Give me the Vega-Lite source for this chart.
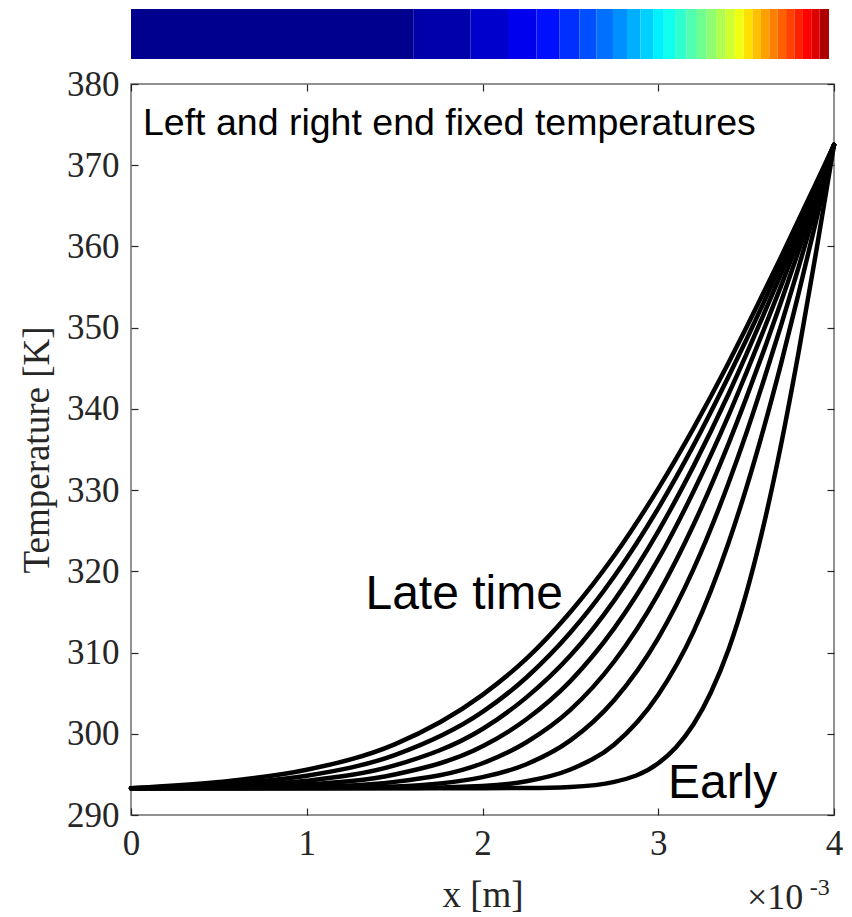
{
  "$schema": "https://vega.github.io/schema/vega-lite/v6.json",
  "background": "white",
  "padding": {"left": 17, "top": 9, "right": 10, "bottom": 0},
  "bounds": "flush",
  "spacing": 25,
  "config": {
    "view": {"stroke": null},
    "axis": {
      "domain": false, "grid": false, "labelFlush": false,
      "labelFont": "Liberation Serif", "labelFontSize": 35, "labelColor": "#262626",
      "titleFont": "Liberation Serif", "titleFontSize": 37, "titleFontWeight": "normal", "titleColor": "#262626",
      "tickColor": "#262626", "tickSize": -7, "tickWidth": 1.2
    }
  },
  "datasets": {
    "curves": [
      {"x":0,"t1":293.3,"t2":293.3,"t3":293.3,"t4":293.3,"t5":293.3,"t6":293.3,"t7":293.3,"t8":293.3},
      {"x":0.0005,"t1":293.3,"t2":293.3,"t3":293.3,"t4":293.32,"t5":293.4,"t6":293.55,"t7":293.78,"t8":294.06},
      {"x":0.001,"t1":293.3,"t2":293.3,"t3":293.33,"t4":293.45,"t5":293.75,"t6":294.21,"t7":294.84,"t8":295.57},
      {"x":0.0015,"t1":293.3,"t2":293.32,"t3":293.52,"t4":294.08,"t5":294.99,"t6":296.1,"t7":297.37,"t8":298.69},
      {"x":0.002,"t1":293.3,"t2":293.58,"t3":294.66,"t4":296.37,"t5":298.45,"t6":300.59,"t7":302.69,"t8":304.79},
      {"x":0.00225,"t1":293.32,"t2":294.15,"t3":296.25,"t4":298.96,"t5":301.79,"t6":304.48,"t7":306.93,"t8":309.25},
      {"x":0.0025,"t1":293.45,"t2":295.6,"t3":299.18,"t4":302.94,"t5":306.49,"t6":309.63,"t7":312.46,"t8":315.0},
      {"x":0.00275,"t1":294.08,"t2":298.69,"t3":304.16,"t4":308.93,"t5":313.0,"t6":316.43,"t7":319.39,"t8":321.95},
      {"x":0.003,"t1":296.37,"t2":304.81,"t3":311.78,"t4":317.23,"t5":321.49,"t6":324.93,"t7":327.76,"t8":330.19},
      {"x":0.0031,"t1":298.32},
      {"x":0.0032,"t1":301.14,"t2":312.55,"t3":320.24,"t4":325.7,"t5":329.79,"t6":332.92,"t7":335.47,"t8":337.6},
      {"x":0.0033,"t1":305.11},
      {"x":0.0034,"t1":310.38,"t2":323.52,"t3":330.87,"t4":335.73,"t5":339.19,"t6":341.83,"t7":343.98,"t8":345.67},
      {"x":0.0035,"t1":317.23,"t2":330.19,"t3":336.93,"t4":341.29,"t5":344.38,"t6":346.64,"t7":348.46,"t8":349.95},
      {"x":0.0036,"t1":325.7,"t2":337.6,"t3":343.5,"t4":347.14,"t5":349.71,"t6":351.64,"t7":353.08,"t8":354.35},
      {"x":0.0037,"t1":335.73,"t2":345.67,"t3":350.37,"t4":353.25,"t5":355.21,"t6":356.68,"t7":357.85,"t8":358.76},
      {"x":0.0038,"t1":347.14,"t2":354.35,"t3":357.55,"t4":359.54,"t5":360.91,"t6":361.92,"t7":362.71,"t8":363.33},
      {"x":0.0039,"t1":359.54,"t2":363.33,"t3":364.98,"t4":365.99,"t5":366.67,"t6":367.19,"t7":367.57,"t8":367.89},
      {"x":0.004,"t1":372.5,"t2":372.5,"t3":372.5,"t4":372.5,"t5":372.5,"t6":372.5,"t7":372.5,"t8":372.5}
    ],
    "bar": [
      {"k":1,"start":0,"end":0.4051},{"k":2,"start":0.4051,"end":0.4866},{"k":3,"start":0.4866,"end":0.5401},
      {"k":4,"start":0.5401,"end":0.5809},{"k":5,"start":0.5809,"end":0.6136},{"k":6,"start":0.6136,"end":0.6424},
      {"k":7,"start":0.6424,"end":0.6671},{"k":8,"start":0.6671,"end":0.6905},{"k":9,"start":0.6905,"end":0.7106},
      {"k":10,"start":0.7106,"end":0.7299},{"k":11,"start":0.7299,"end":0.748},{"k":12,"start":0.748,"end":0.7634},
      {"k":13,"start":0.7634,"end":0.7794},{"k":14,"start":0.7794,"end":0.7955},{"k":15,"start":0.7955,"end":0.8108},
      {"k":16,"start":0.8108,"end":0.8249},{"k":17,"start":0.8249,"end":0.8382},{"k":18,"start":0.8382,"end":0.8516},
      {"k":19,"start":0.8516,"end":0.865},{"k":20,"start":0.865,"end":0.8777},{"k":21,"start":0.8777,"end":0.8904},
      {"k":22,"start":0.8904,"end":0.9024},{"k":23,"start":0.9024,"end":0.9144},{"k":24,"start":0.9144,"end":0.9265},
      {"k":25,"start":0.9265,"end":0.9385},{"k":26,"start":0.9385,"end":0.9505},{"k":27,"start":0.9505,"end":0.9626},
      {"k":28,"start":0.9626,"end":0.9746},{"k":29,"start":0.9746,"end":0.9866},{"k":30,"start":0.9866,"end":1.0}
    ]
  },
  "vconcat": [
    {
      "width": 698,
      "height": 50,
      "view": {"stroke": null},
      "data": {"name": "bar"},
      "mark": {"type": "rect", "stroke": null},
      "encoding": {
        "x": {"field": "start", "type": "quantitative", "scale": {"domain": [0, 1], "nice": false, "zero": false}, "axis": null},
        "x2": {"field": "end"},
        "color": {
          "field": "k", "type": "ordinal", "legend": null,
          "scale": {"range": ["#00008F","#0000AA","#0000CC","#0000EE","#0010FF","#0030FF","#0050FF","#0070FF","#0090FF","#00B0FF","#00D0FF","#00F0FF","#10FFEF","#30FFCF","#50FFAF","#70FF8F","#90FF6F","#B0FF4F","#D0FF2F","#F0FF0F","#FFE000","#FFC000","#FFA000","#FF8000","#FF6000","#FF4000","#FF2000","#FF0000","#DF0000","#AF0000"]}
        }
      }
    },
    {
      "width": 703,
      "height": 731,
      "view": {"stroke": "#6e6e6e", "strokeWidth": 1.5},
      "resolve": {"axis": {"x": "independent", "y": "independent"}},
      "layer": [
        {
          "data": {"name": "curves"},
          "transform": [
            {"fold": ["t1","t2","t3","t4","t5","t6","t7","t8"], "as": ["curve", "T"]},
            {"filter": "isValid(datum.T)"}
          ],
          "mark": {"type": "line", "color": "black", "strokeWidth": 4.5, "interpolate": "monotone", "strokeCap": "round"},
          "encoding": {
            "x": {"field": "x", "type": "quantitative",
              "scale": {"domain": [0, 0.004], "nice": false, "zero": false},
              "axis": {"orient": "bottom", "values": [0, 0.001, 0.002, 0.003, 0.004], "labelExpr": "format(datum.value*1000, 'd')", "title": "x [m]", "labelPadding": 18, "titlePadding": 16}},
            "y": {"field": "T", "type": "quantitative",
              "scale": {"domain": [290, 380], "nice": false, "zero": false},
              "axis": {"orient": "left", "values": [290,300,310,320,330,340,350,360,370,380], "title": "Temperature [K]", "labelPadding": 19, "titlePadding": 10}},
            "detail": {"field": "curve"}
          }
        },
        {
          "data": {"values": [{"x": 0, "T": 290}, {"x": 0.004, "T": 380}]},
          "mark": {"type": "point", "opacity": 0},
          "encoding": {
            "x": {"field": "x", "type": "quantitative", "axis": {"orient": "top", "values": [0, 0.001, 0.002, 0.003, 0.004], "labels": false, "title": null}},
            "y": {"field": "T", "type": "quantitative", "axis": {"orient": "right", "values": [290,300,310,320,330,340,350,360,370,380], "labels": false, "title": null}}
          }
        },
        {
          "data": {"values": [{"label": "Left and right end fixed temperatures", "x": 0.000068, "T": 373.7}]},
          "mark": {"type": "text", "font": "Liberation Sans", "fontSize": 37.5, "align": "left", "baseline": "alphabetic", "color": "black"},
          "encoding": {
            "x": {"field": "x", "type": "quantitative", "axis": null},
            "y": {"field": "T", "type": "quantitative", "axis": null},
            "text": {"field": "label"}
          }
        },
        {
          "data": {"values": [{"label": "Late time", "x": 0.001334, "T": 315.4}, {"label": "Early", "x": 0.003055, "T": 292.1}]},
          "mark": {"type": "text", "font": "Liberation Sans", "fontSize": 48, "align": "left", "baseline": "alphabetic", "color": "black"},
          "encoding": {
            "x": {"field": "x", "type": "quantitative", "axis": null},
            "y": {"field": "T", "type": "quantitative", "axis": null},
            "text": {"field": "label"}
          }
        },
        {
          "data": {"values": [{"label": "×10", "x": 0.003505, "T": 278.4}]},
          "mark": {"type": "text", "font": "Liberation Serif", "fontSize": 36, "align": "left", "baseline": "alphabetic", "color": "#262626"},
          "encoding": {
            "x": {"field": "x", "type": "quantitative", "axis": null},
            "y": {"field": "T", "type": "quantitative", "axis": null},
            "text": {"field": "label"}
          }
        },
        {
          "data": {"values": [{"label": "-3", "x": 0.003862, "T": 280.1}]},
          "mark": {"type": "text", "font": "Liberation Serif", "fontSize": 24, "align": "left", "baseline": "alphabetic", "color": "#262626"},
          "encoding": {
            "x": {"field": "x", "type": "quantitative", "axis": null},
            "y": {"field": "T", "type": "quantitative", "axis": null},
            "text": {"field": "label"}
          }
        }
      ]
    }
  ]
}
